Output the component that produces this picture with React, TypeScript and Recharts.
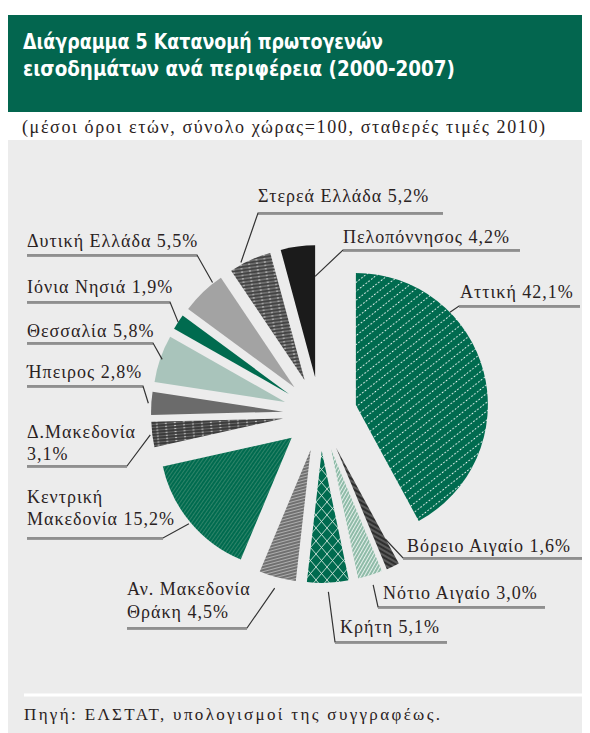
import React from 'react';
import { PieChart, Pie, Cell, Sector } from 'recharts';

// shares of primary income by region, 2000-2007 averages (%)
const regions = [
  'Αττική',
  'Βόρειο Αιγαίο',
  'Νότιο Αιγαίο',
  'Κρήτη',
  'Αν. Μακεδονία Θράκη',
  'Κεντρική Μακεδονία',
  'Δ.Μακεδονία',
  'Ήπειρος',
  'Θεσσαλία',
  'Ιόνια Νησιά',
  'Δυτική Ελλάδα',
  'Στερεά Ελλάδα',
  'Πελοπόννησος',
];
const shares = [42.1, 1.6, 3.0, 5.1, 4.5, 15.2, 3.1, 2.8, 5.8, 1.9, 5.5, 5.2, 4.2];

const title1 = 'Διάγραμμα 5  Κατανομή πρωτογενών';
const title2 = 'εισοδημάτων ανά περιφέρεια (2000-2007)';
const subtitle = '(μέσοι όροι ετών, σύνολο χώρας=100, σταθερές τιμές 2010)';
const source = 'Πηγή: ΕΛΣΤΑΤ, υπολογισμοί της συγγραφέως.';

const data = regions.map((name, i) => ({ name, value: shares[i] }));

const fills = [
  'url(#pAttiki)',
  'url(#pBoreio)',
  'url(#pNotio)',
  'url(#pKriti)',
  'url(#pAnMak)',
  'url(#pKentriki)',
  'url(#pDMak)',
  '#6b6b6b',
  '#a9c4bb',
  '#006b4f',
  '#a3a3a3',
  'url(#pSterea)',
  '#1b1b1b',
];

// label placement (page px, shifted by body margin below)
// tx: text x, ty: baselines, ul: underline [x1, x2, y], side: which end of the underline the leader leaves from
// f: where on the slice the leader points (0..1 along the slice), rr: distance from the slice apex, split: words on line 1
const labelLayout: any[] = [
  { tx: 460, ty: [298], ul: [459, 580, 306], side: 'L', f: 0.3, rr: 132 },
  { tx: 407, ty: [552], ul: [403, 582, 558], side: 'L', f: 0.03, rr: 104 },
  { tx: 383, ty: [599], ul: [378, 545, 607], side: 'L', f: 0.5, rr: 142 },
  { tx: 340, ty: [633], ul: [335, 447, 642], side: 'L', f: 0.5, rr: 141 },
  { tx: 127, ty: [595, 618], ul: [127, 247, 628], side: 'R', f: 0.5, rr: 143, split: 2 },
  { tx: 27, ty: [503, 525], ul: [27, 163, 538], side: 'R', f: 0.5, rr: 134, split: 1 },
  { tx: 27, ty: [438, 460], ul: [27, 127, 466], side: 'R', f: 0.5, rr: 134, split: 1 },
  { tx: 27, ty: [378], ul: [27, 143, 386], side: 'R', f: 0.5, rr: 135 },
  { tx: 27, ty: [337], ul: [27, 153, 343], side: 'R', f: 0.5, rr: 130 },
  { tx: 27, ty: [293], ul: [27, 170, 302], side: 'R', f: 0.5, rr: 132 },
  { tx: 27, ty: [247], ul: [27, 197, 255], side: 'R', f: 0.79, rr: 133 },
  { tx: 258, ty: [202], ul: [258, 443, 213], side: 'L', f: 0.29, rr: 134 },
  { tx: 343, ty: [243], ul: [343, 520, 250], side: 'L', f: 1.0, rr: 101 },
];

const W = 582;
const H = 725;
const OFF = 8; // body margin
const RAD = Math.PI / 180;
const R = 132;
const EXPLODE = 37;
const SERIF = 'Liberation Serif, Times New Roman, serif';
const INK = '#2a2222';

const fmt = (v: number) => v.toFixed(1).replace('.', ',') + '%';

const ExplodedSector = (props: any) => {
  const { cx, cy, midAngle } = props;
  const dx = EXPLODE * Math.cos(-midAngle * RAD);
  const dy = EXPLODE * Math.sin(-midAngle * RAD);
  return <Sector {...props} cx={cx + dx} cy={cy + dy} stroke="none" />;
};

const renderLabel = (props: any) => {
  const { cx, cy, midAngle, startAngle, endAngle, index, value } = props;
  const lay = labelLayout[index];
  if (!lay) return null;
  const ax0 = cx + EXPLODE * Math.cos(-midAngle * RAD);
  const ay0 = cy + EXPLODE * Math.sin(-midAngle * RAD);
  const ang = startAngle + lay.f * (endAngle - startAngle);
  const ax = ax0 + lay.rr * Math.cos(-ang * RAD);
  const ay = ay0 + lay.rr * Math.sin(-ang * RAD);
  const [u1, u2, uy] = lay.ul.map((v: number) => v - OFF);
  const cornerX = lay.side === 'L' ? u1 : u2;
  const farX = lay.side === 'L' ? u2 : u1;
  const words = `${regions[index]} ${fmt(value)}`.split(' ');
  const lines = lay.split ? [words.slice(0, lay.split).join(' '), words.slice(lay.split).join(' ')] : [words.join(' ')];
  return (
    <g key={`lab-${index}`}>
      <line x1={farX} y1={uy + 1.5} x2={cornerX} y2={uy + 1.5} stroke="#9a9a9a" strokeWidth={1.2} />
      <polyline points={`${ax},${ay} ${cornerX},${uy} ${farX},${uy}`} fill="none" stroke="#333" strokeWidth={1.2} />
      <text fill={INK} fontFamily={SERIF} fontSize={18} letterSpacing={1.0}>
        {lines.map((t, k) => (
          <tspan key={k} x={lay.tx - OFF} y={lay.ty[k] - OFF}>
            {t}
          </tspan>
        ))}
      </text>
    </g>
  );
};

const Patterns = () => (
  <defs>
    <pattern id="pAttiki" patternUnits="userSpaceOnUse" width="7" height="7" patternTransform="rotate(-38)">
      <rect width="7" height="7" fill="#006b4f" />
      <line x1="0" y1="3.5" x2="7" y2="3.5" stroke="#ffffff" strokeWidth="1.1" strokeDasharray="1.6 1.9" />
    </pattern>
    <pattern id="pBoreio" patternUnits="userSpaceOnUse" width="4" height="4" patternTransform="rotate(30)">
      <rect width="4" height="4" fill="#2f2f2f" />
      <line x1="0" y1="2" x2="4" y2="2" stroke="#9a9a9a" strokeWidth="0.8" />
    </pattern>
    <pattern id="pNotio" patternUnits="userSpaceOnUse" width="3" height="3" patternTransform="rotate(-60)">
      <rect width="3" height="3" fill="#8fbba8" />
      <line x1="0" y1="1.5" x2="3" y2="1.5" stroke="#e6f0ec" strokeWidth="1" />
    </pattern>
    <pattern id="pKriti" patternUnits="userSpaceOnUse" width="11" height="13">
      <rect width="11" height="13" fill="#006b4f" />
      <path d="M0,0 L11,13 M11,0 L0,13" stroke="#cfe3da" strokeWidth="0.9" />
    </pattern>
    <pattern id="pAnMak" patternUnits="userSpaceOnUse" width="3" height="3" patternTransform="rotate(-15)">
      <rect width="3" height="3" fill="#707070" />
      <line x1="0" y1="1.5" x2="3" y2="1.5" stroke="#b5b5b5" strokeWidth="0.9" />
    </pattern>
    <pattern id="pKentriki" patternUnits="userSpaceOnUse" width="3" height="3" patternTransform="rotate(-55)">
      <rect width="3" height="3" fill="#006b4f" />
      <line x1="0" y1="1.5" x2="3" y2="1.5" stroke="#3b8a70" strokeWidth="0.8" />
    </pattern>
    <pattern id="pDMak" patternUnits="userSpaceOnUse" width="9" height="3" patternTransform="rotate(-5)">
      <rect width="9" height="3" fill="#3c3c3c" />
      <line x1="0" y1="1.5" x2="9" y2="1.5" stroke="#6a6a6a" strokeWidth="0.9" />
      <circle cx="4" cy="1.5" r="0.7" fill="#ffffff" />
    </pattern>
    <pattern id="pSterea" patternUnits="userSpaceOnUse" width="8" height="3.4" patternTransform="rotate(-8)">
      <rect width="8" height="3.4" fill="#444444" />
      <line x1="0" y1="1.7" x2="8" y2="1.7" stroke="#8c8c8c" strokeWidth="1" />
      <circle cx="3" cy="1.7" r="0.7" fill="#ffffff" />
    </pattern>
  </defs>
);

export default function App() {
  return (
    <div style={{ position: 'relative', width: W, height: H }}>
      <svg width={W} height={H} style={{ position: 'absolute', left: 0, top: 0 }}>
        <Patterns />
        <rect x={0} y={0} width={W} height={H} fill="#ffffff" />
        <rect x={0} y={7} width={W} height={97} fill="#03664f" />
        <text x={15} y={41} fill="#ffffff" fontFamily="DejaVu Sans, sans-serif" fontWeight={700} fontSize={22}
          textLength={360} lengthAdjust="spacingAndGlyphs">{title1}</text>
        <text x={15} y={68} fill="#ffffff" fontFamily="DejaVu Sans, sans-serif" fontWeight={700} fontSize={22}
          textLength={432} lengthAdjust="spacingAndGlyphs">{title2}</text>
        <text x={14} y={125} fill={INK} fontFamily={SERIF} fontSize={18} textLength={523} lengthAdjust="spacing">{subtitle}</text>
        <rect x={0} y={132} width={W} height={H - 132} fill="#ececec" />
        <line x1={16} y1={687} x2={W} y2={687} stroke="#ffffff" strokeWidth={3} />
        <text x={16} y={712} fill={INK} fontFamily={SERIF} fontSize={17} textLength={416} lengthAdjust="spacing">{source}</text>
      </svg>
      <PieChart width={W} height={H} style={{ position: 'absolute', left: 0, top: 0 }} margin={{ top: 0, right: 0, bottom: 0, left: 0 }}>
        <Pie
          data={data}
          dataKey="value"
          nameKey="name"
          cx={320 - OFF}
          cy={414 - OFF}
          outerRadius={R}
          startAngle={90}
          endAngle={-270}
          stroke="none"
          isAnimationActive={false}
          shape={ExplodedSector}
          inactiveShape={ExplodedSector}
          activeShape={ExplodedSector}
          label={renderLabel}
          labelLine={false}
        >
          {data.map((d, i) => (
            <Cell key={d.name} fill={fills[i]} />
          ))}
        </Pie>
      </PieChart>
    </div>
  );
}
